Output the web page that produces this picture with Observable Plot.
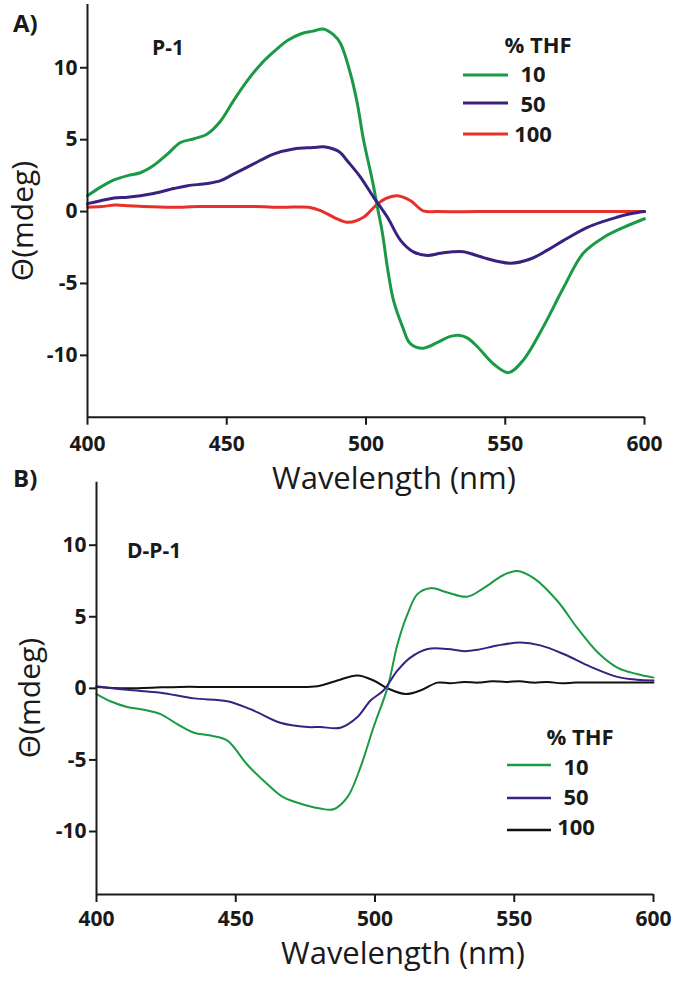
<!DOCTYPE html>
<html><head><meta charset="utf-8">
<script src="https://cdn.jsdelivr.net/npm/d3@7"></script>
<script src="https://cdn.jsdelivr.net/npm/@observablehq/plot@0.6"></script>
<style>
body{margin:0;background:#fff;}
#wrap{position:relative;width:675px;height:982px;overflow:hidden;background:#fff;}
#wrap svg{position:absolute;left:0;}
</style></head><body><div id="wrap"></div>
<script>
// ---------- data ----------
const xTicks = [400, 450, 500, 550, 600];
const yTicks = [-10, -5, 0, 5, 10];
const xDomain = [400, 600];
const yDomainA = [-14.3, 14.4];
const yDomainB = [-14.4, 14.4];
const legendLabels = ["10", "50", "100"];

// Panel A (P-1)
const aWl10 = [400,404.7,409.5,414.4,419,423.7,428.7,433.4,438,443,447.8,452.4,457.4,462,466.8,471.8,476.5,481,484.7,488.3,490.8,494.4,496.9,499.1,502.3,504.1,505.9,507.7,509.9,513.1,516,520.6,525.7,530,533.2,536.5,540,545.8,551.2,556.6,563.7,570.9,578,585.3,592.5,600];
const aCd10 = [1.1,1.7,2.2,2.5,2.7,3.2,4.0,4.8,5.05,5.4,6.3,7.7,9.1,10.2,11.1,11.9,12.35,12.55,12.7,12.3,11.7,9.6,7.5,5.0,2.15,0.3,-1.5,-3.9,-6.2,-8.0,-9.2,-9.5,-9.1,-8.7,-8.6,-8.8,-9.4,-10.6,-11.2,-10.3,-8.0,-5.3,-2.9,-1.8,-1.1,-0.5];

const aWl50 = [400,404.7,409.5,414.4,419,423.7,431,436,443,447.8,452.4,459.5,466.8,474,481,484.7,488.3,490.8,493.4,498,502.7,507.7,512.4,517,522,526.7,531,535,542.2,547,551.9,559,565,571,579.5,585,590,595,600];
const aCd50 = [0.55,0.75,0.95,1.0,1.1,1.25,1.6,1.8,1.95,2.15,2.6,3.3,4.0,4.35,4.45,4.5,4.35,4.1,3.5,2.4,1.0,-0.4,-2.0,-2.8,-3.05,-2.9,-2.8,-2.8,-3.2,-3.45,-3.6,-3.3,-2.7,-2.0,-1.1,-0.7,-0.4,-0.15,0.0];

const aWl100 = [400,405,410,415,420,430,440,450,460,470,479.4,483.7,489,493.7,499.1,503.4,507,511.3,516,520.6,525.7,540,560,580,600];
const aCd100 = [0.3,0.35,0.45,0.4,0.35,0.3,0.35,0.35,0.35,0.3,0.3,0.07,-0.45,-0.75,-0.4,0.4,0.9,1.1,0.75,0.05,0.0,0.0,0.0,0.0,0.0];

// Panel B (D-P-1)
const bWl10 = [400,405,411,417,423,429,435,441,447,454,461.4,467,475.8,480.4,485.1,490.1,494.8,499.5,504.5,508.1,511.7,515.3,519.9,526,533,539,546,551,557,565.5,572.7,580,587,594,600];
const bCd10 = [-0.4,-0.9,-1.3,-1.5,-1.8,-2.5,-3.1,-3.3,-3.65,-5.3,-6.7,-7.6,-8.2,-8.4,-8.45,-7.6,-5.5,-2.7,0.05,3.1,5.2,6.6,7.0,6.7,6.4,7.0,7.9,8.2,7.7,6.1,4.2,2.5,1.45,1.0,0.75];

const bWl50 = [400,411,423,435,447,456.4,466,475.8,480.4,487.6,493.7,498.4,503,508.1,512.7,518.9,526,532,537,544,552.2,559.4,567.7,577.5,587,594,600];
const bCd50 = [0.15,-0.1,-0.3,-0.7,-0.9,-1.55,-2.4,-2.7,-2.7,-2.75,-2.0,-0.85,-0.15,1.25,2.15,2.75,2.75,2.6,2.7,3.0,3.2,3.0,2.4,1.5,0.8,0.6,0.55];

const bWl100 = [400,410,420,430,440,450,460,470,479.3,486.5,493.7,499.5,504.5,511,516.3,522.4,527,532,537,542,547,552,557,562,567,572,580,590,600];
const bCd100 = [0.1,0.0,0.05,0.1,0.1,0.1,0.1,0.1,0.15,0.55,0.9,0.55,0.0,-0.4,-0.15,0.4,0.35,0.45,0.4,0.5,0.45,0.5,0.4,0.45,0.35,0.4,0.4,0.4,0.4];

const colorsA = ["#1b9a46", "#3a2180", "#e8302a"];
const colorsB = ["#1b9a46", "#3a2180", "#111111"];

// ---------- helpers ----------
const toRows = (wl, cd) => wl.map((w, i) => ({wl: w, cd: cd[i]}));
const FONT = "'Open Sans', sans-serif";
const INK = "#1a1a1a";

function panel({yDomain, series, colors, lineWidth, width, height, mL, mR, mT, mB, xPad}) {
  const order = [2, 0, 1];
  return Plot.plot({
    width, height,
    marginLeft: mL, marginRight: mR, marginTop: mT, marginBottom: mB,
    x: {domain: xDomain},
    y: {domain: yDomain},
    style: {overflow: "visible", background: "transparent", fontFamily: FONT, fontWeight: "700", fontSize: "21px", color: INK},
    marks: [
      ...order.map(i => Plot.line(toRows(series[i][0], series[i][1]), {
        x: "wl", y: "cd", stroke: colors[i], strokeWidth: lineWidth, curve: "catmull-rom"
      })),
      Plot.ruleX([xDomain[0]], {y1: yDomain[0], y2: yDomain[1], stroke: INK, strokeWidth: 2}),
      Plot.ruleY([yDomain[0]], {x1: xDomain[0], x2: xDomain[1], stroke: INK, strokeWidth: 2}),
      Plot.axisY({ticks: yTicks, tickSize: 7, tickPadding: 3, strokeWidth: 2, tickFormat: d => String(d), label: null, fontSize: 21, fontWeight: 700}),
      Plot.axisX({ticks: xTicks, tickSize: 8, tickPadding: xPad, strokeWidth: 2, tickFormat: d => String(d), label: null, fontSize: 21, fontWeight: 700})
    ]
  });
}

const wrap = document.getElementById("wrap");

const svgA = panel({
  yDomain: yDomainA,
  series: [[aWl10, aCd10], [aWl50, aCd50], [aWl100, aCd100]],
  colors: colorsA, lineWidth: 3,
  width: 675, height: 470, mL: 87, mR: 31, mT: 4, mB: 53.3, xPad: 11
});
svgA.style.top = "0px";
wrap.appendChild(svgA);

const svgB = panel({
  yDomain: yDomainB,
  series: [[bWl10, bCd10], [bWl50, bCd50], [bWl100, bCd100]],
  colors: colorsB, lineWidth: 2,
  width: 675, height: 512, mL: 96, mR: 22, mT: 11.7, mB: 88, xPad: 9
});
svgB.style.top = "470px";
wrap.appendChild(svgB);

// ---------- annotations (text) ----------
const ov = d3.select(wrap).append("svg")
  .attr("width", 675).attr("height", 982)
  .style("top", "0px").style("pointer-events", "none")
  .attr("font-family", FONT).attr("fill", INK);

function txt(x, y, s, size, weight, anchor = "start") {
  return ov.append("text").attr("x", x).attr("y", y).attr("font-size", size)
    .attr("font-weight", weight).attr("text-anchor", anchor).text(s);
}

// panel letters and sample names
txt(13, 32, "A)", 24, 700);
txt(13, 487, "B)", 24, 700);
txt(152, 55, "P-1", 21, 700);
txt(127, 558, "D-P-1", 21, 700);

// axis titles
txt(394, 489, "Wavelength (nm)", 31, 400, "middle");
txt(403, 964, "Wavelength (nm)", 31, 400, "middle");
ov.append("text").attr("transform", "translate(33,221) rotate(-90)")
  .attr("font-size", 30).attr("text-anchor", "middle").text("Θ(mdeg)");
ov.append("text").attr("transform", "translate(40,698) rotate(-90)")
  .attr("font-size", 30).attr("text-anchor", "middle").text("Θ(mdeg)");

// legends
function legend(titleX, titleY, x1, x2, lineYs, labelX, labelYs, colors, sw) {
  txt(titleX, titleY, "% THF", 22, 700, "middle");
  legendLabels.forEach((lab, i) => {
    ov.append("line").attr("x1", x1).attr("x2", x2).attr("y1", lineYs[i]).attr("y2", lineYs[i])
      .attr("stroke", colors[i]).attr("stroke-width", sw);
    txt(labelX, labelYs[i], lab, 22, 700, "middle");
  });
}
legend(538, 53, 463, 508, [75, 103, 134], 533, [82, 112, 142], colorsA, 3);
legend(580, 745, 507, 551, [765, 798, 830], 576, [775, 805, 835], colorsB, 2.6);
</script></body></html>
